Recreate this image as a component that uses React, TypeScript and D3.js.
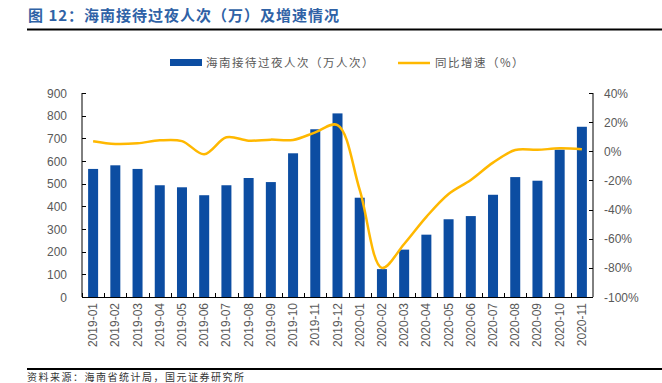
import React from "react";
import * as d3 from "d3";

const categories = [
  "2019-01","2019-02","2019-03","2019-04","2019-05","2019-06","2019-07","2019-08","2019-09","2019-10","2019-11","2019-12",
  "2020-01","2020-02","2020-03","2020-04","2020-05","2020-06","2020-07","2020-08","2020-09","2020-10","2020-11",
];
const visitors = [565, 581, 565, 493, 484, 449, 493, 525, 507, 634, 740, 810, 438, 123, 209, 275, 343, 357, 451, 529, 513, 650, 751];
const growth = [6.9, 5, 5.5, 7.5, 7, -2, 9.6, 7.3, 8, 7.8, 13, 18, -26.5, -80, -63.6, -45, -29.3, -19.7, -7.8, 0.9, 1, 2, 1.4];
const leftTicks = [0, 100, 200, 300, 400, 500, 600, 700, 800, 900];
const rightTicks = [-100, -80, -60, -40, -20, 0, 20, 40];

const title = "图 12：海南接待过夜人次（万）及增速情况";
const barName = "海南接待过夜人次（万人次）";
const lineName = "同比增速（%）";
const source = "资料来源：海南省统计局，国元证券研究所";

const BAR = "#0C4DA2";
const LINE = "#FFB800";
const TXT = "#595959";
const FONT = "'Liberation Sans', Arial, sans-serif";
const CJK = "'Noto Sans CJK SC', sans-serif";

export default function App() {
  const W = 662, H = 383;
  const left = 82, right = 593, top = 93, bottom = 297;
  const x = d3.scaleBand<string>().domain(categories).range([left, right]).paddingInner(0).paddingOuter(0);
  const yL = d3.scaleLinear().domain([0, 900]).range([bottom, top]);
  const yR = d3.scaleLinear().domain([-100, 40]).range([bottom, top]);
  const bw = x.bandwidth() * 0.45;
  const line = d3
    .line<number>()
    .x((_, i) => (x(categories[i]) as number) + x.bandwidth() / 2)
    .y((d) => yR(d))
    .curve(d3.curveCatmullRom.alpha(0.5));

  return (
    <svg width={W} height={H} style={{ position: "absolute", left: 0, top: 0, fontFamily: FONT }}>
      <rect width={W} height={H} fill="#fff" />
      <text x={28} y={21} fontSize={15} fontWeight="bold" fill="#2F62A6" fontFamily={CJK} letterSpacing={1}>
        {title}
      </text>
      <line x1={27} x2={662} y1={29.5} y2={29.5} stroke="#000" strokeWidth={2} />

      {/* legend */}
      <rect x={170} y={59} width={32} height={7} fill={BAR} />
      <text x={206} y={67} fontSize={11.5} fill={TXT} fontFamily={CJK} letterSpacing={1.5}>{barName}</text>
      <line x1={398} x2={430} y1={63} y2={63} stroke={LINE} strokeWidth={2.5} />
      <text x={435} y={67} fontSize={11.5} fill={TXT} fontFamily={CJK} letterSpacing={1.5}>{lineName}</text>

      {/* bars */}
      {visitors.map((v, i) => (
        <rect
          key={i}
          x={(x(categories[i]) as number) + (x.bandwidth() - bw) / 2}
          y={yL(v)}
          width={bw}
          height={bottom - yL(v)}
          fill={BAR}
        />
      ))}

      {/* line */}
      <path d={line(growth) || ""} fill="none" stroke={LINE} strokeWidth={2.5} />

      {/* axes */}
      <line x1={left} x2={left} y1={top} y2={bottom} stroke="#000" strokeWidth={1} />
      <line x1={right} x2={right} y1={top} y2={bottom} stroke="#000" strokeWidth={1} />
      <line x1={left} x2={right} y1={bottom + 0.5} y2={bottom + 0.5} stroke="#000" strokeWidth={1} />
      {leftTicks.map((t) => (
        <g key={"l" + t}>
          <line x1={left} x2={left + 4} y1={Math.round(yL(t)) + 0.5} y2={Math.round(yL(t)) + 0.5} stroke="#000" />
          <text x={67} y={yL(t) + 4.5} fontSize={12} fill={TXT} textAnchor="end">{t}</text>
        </g>
      ))}
      {rightTicks.map((t) => (
        <g key={"r" + t}>
          <line x1={right - 4} x2={right} y1={Math.round(yR(t)) + 0.5} y2={Math.round(yR(t)) + 0.5} stroke="#000" />
          <text x={604} y={yR(t) + 4.5} fontSize={12} fill={TXT}>{t}%</text>
        </g>
      ))}
      {categories.map((c, i) => (
        <line
          key={"t" + i}
          x1={Math.round(x(c) as number) + 0.5}
          x2={Math.round(x(c) as number) + 0.5}
          y1={bottom}
          y2={bottom - 4}
          stroke="#000"
        />
      ))}
      {categories.map((c) => {
        const cx = (x(c) as number) + x.bandwidth() / 2 + 4;
        return (
          <text key={"x" + c} transform={`translate(${cx},${bottom + 6}) rotate(-90)`} fontSize={12} fill={TXT} textAnchor="end">
            {c}
          </text>
        );
      })}

      <line x1={27} x2={662} y1={369} y2={369} stroke="#000" strokeWidth={2} />
      <text x={27} y={381} fontSize={10} fill="#333" fontFamily={CJK} letterSpacing={1.5}>{source}</text>
    </svg>
  );
}
